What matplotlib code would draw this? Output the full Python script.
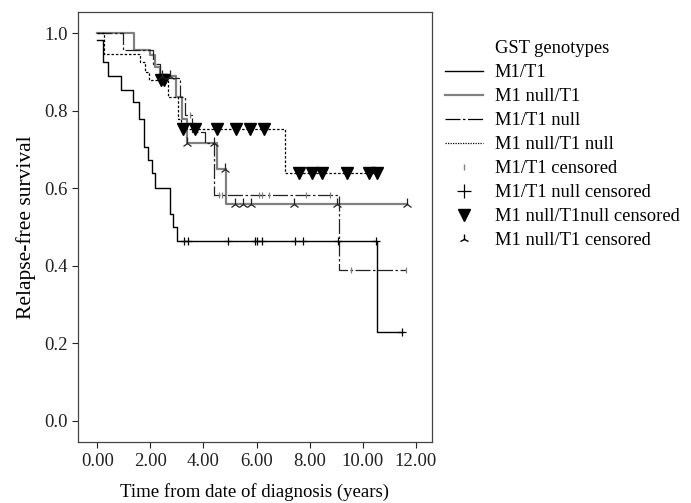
import numpy as np
import matplotlib
matplotlib.use("Agg")
import matplotlib.pyplot as plt
from matplotlib.lines import Line2D

plt.rcParams['font.family'] = ['Liberation Serif', 'DejaVu Serif']

# step curves: time of each step, survival after it, and end of follow-up
m1t1_t = [0.0, 0.21, 0.40, 0.90, 1.34, 1.58, 1.78, 1.91, 2.06, 2.18, 2.75, 2.87, 3.00, 10.52]
m1t1_s = [0.984, 0.926, 0.891, 0.853, 0.823, 0.780, 0.707, 0.674, 0.640, 0.602, 0.535, 0.499, 0.465, 0.229]
m1t1_end = 11.46
m1t1_cens = [3.27, 3.40, 4.94, 5.94, 6.03, 6.20, 7.45, 7.74, 9.08, 10.50, 11.46]

m1null_t = [0.0, 1.39, 1.97, 2.16, 2.35, 2.97, 3.19, 3.37, 4.50, 4.84]
m1null_s = [1.0, 0.958, 0.943, 0.913, 0.889, 0.836, 0.778, 0.716, 0.649, 0.559]
m1null_end = 11.65
m1null_cens = [2.43, 2.75, 3.38, 4.40, 4.83, 5.19, 5.50, 5.79, 7.41, 9.02, 11.65]

t1null_t = [0.0, 0.97, 2.09, 2.35, 3.10, 3.31, 3.56, 4.06, 4.41, 9.09]
t1null_s = [1.0, 0.958, 0.920, 0.885, 0.835, 0.790, 0.745, 0.716, 0.582, 0.389]
t1null_end = 11.63
t1null_cens = [3.50, 4.60, 4.68, 6.11, 6.20, 6.48, 7.86, 8.77, 9.54, 11.63]

both_t = [0.0, 0.26, 1.62, 1.81, 1.95, 2.68, 3.06, 3.15, 7.07]
both_s = [1.0, 0.948, 0.926, 0.900, 0.880, 0.836, 0.778, 0.754, 0.640]
both_end = 10.58
both_cens = [2.40, 2.52, 3.22, 3.69, 4.50, 5.23, 5.76, 6.28, 7.61, 8.08, 8.45, 9.42, 10.24, 10.55]

x_ticks = [0, 2, 4, 6, 8, 10, 12]
y_ticks = [0.0, 0.2, 0.4, 0.6, 0.8, 1.0]


def step_xy(t, s, end):
    return list(t) + [end], list(s) + [s[-1]]


def at(t, s, c):
    idx = np.searchsorted(t, c, side='right') - 1
    return np.array(s)[idx]


fig = plt.figure(figsize=(6.91, 5.03), dpi=100)
ax = fig.add_axes([0.113, 0.121, 0.512, 0.855])

grey = '#808080'

x, y = step_xy(m1t1_t, m1t1_s, m1t1_end)
ax.step(x, y, where='post', color='black', lw=1.0)
x, y = step_xy(m1null_t, m1null_s, m1null_end)
ax.step(x, y, where='post', color=grey, lw=1.6)
x, y = step_xy(t1null_t, t1null_s, t1null_end)
ax.step(x, y, where='post', color='#222222', lw=0.9, dashes=(12, 2, 2, 2))
x, y = step_xy(both_t, both_s, both_end)
ax.step(x, y, where='post', color='black', lw=0.9, dashes=(2, 1.5))

# censored marks
ax.plot(m1t1_cens, at(m1t1_t, m1t1_s, m1t1_cens), ls='none', marker='+',
        ms=6, mew=0.9, color='black')
ax.plot(t1null_cens, at(t1null_t, t1null_s, t1null_cens), ls='none', marker='|',
        ms=4, mew=0.9, color=grey)
ax.plot(both_cens, at(both_t, both_s, both_cens), ls='none', marker='v',
        ms=8, color='black')
ax.plot(m1null_cens, at(m1null_t, m1null_s, m1null_cens), ls='none', marker='2',
        ms=8, mew=0.9, color='#222222')

ax.set_xlim(-0.72, 12.6)
ax.set_ylim(-0.055, 1.055)
ax.set_xticks(x_ticks)
ax.set_xticklabels(['%.2f' % v for v in x_ticks])
ax.set_yticks(y_ticks)
ax.set_yticklabels(['%.1f' % v for v in y_ticks])
ax.tick_params(direction='out', length=4, width=0.8, labelsize=13.5, colors='#222222')
for sp in ax.spines.values():
    sp.set_color('#444444')
    sp.set_linewidth(0.9)

ax.set_xlabel('Time from date of diagnosis (years)', fontsize=13.5, labelpad=10)
ax.set_ylabel('Relapse-free survival', fontsize=15.5, labelpad=6)

handles = [
    Line2D([], [], ls='none'),
    Line2D([], [], color='black', lw=1.0),
    Line2D([], [], color=grey, lw=1.6),
    Line2D([], [], color='black', lw=0.9, dashes=(12, 2, 2, 2)),
    Line2D([], [], color='black', lw=0.9, dashes=(1, 1)),
    Line2D([], [], ls='none', marker='|', ms=4, color=grey),
    Line2D([], [], ls='none', marker='+', ms=10, mew=0.9, color='black'),
    Line2D([], [], ls='none', marker='v', ms=8, color='black'),
    Line2D([], [], ls='none', marker='2', ms=7, color='black'),
]
labels = ['GST genotypes', 'M1/T1', 'M1 null/T1', 'M1/T1 null', 'M1 null/T1 null',
          'M1/T1 censored', 'M1/T1 null censored', 'M1 null/T1null censored',
          'M1 null/T1 censored']
fig.legend(handles, labels, loc='upper left', bbox_to_anchor=(0.644, 0.92),
           frameon=False, fontsize=13.3, handlelength=2.05, handletextpad=0.65,
           labelspacing=0.38, borderpad=0, borderaxespad=0)

fig.savefig('out.png', dpi=100)
